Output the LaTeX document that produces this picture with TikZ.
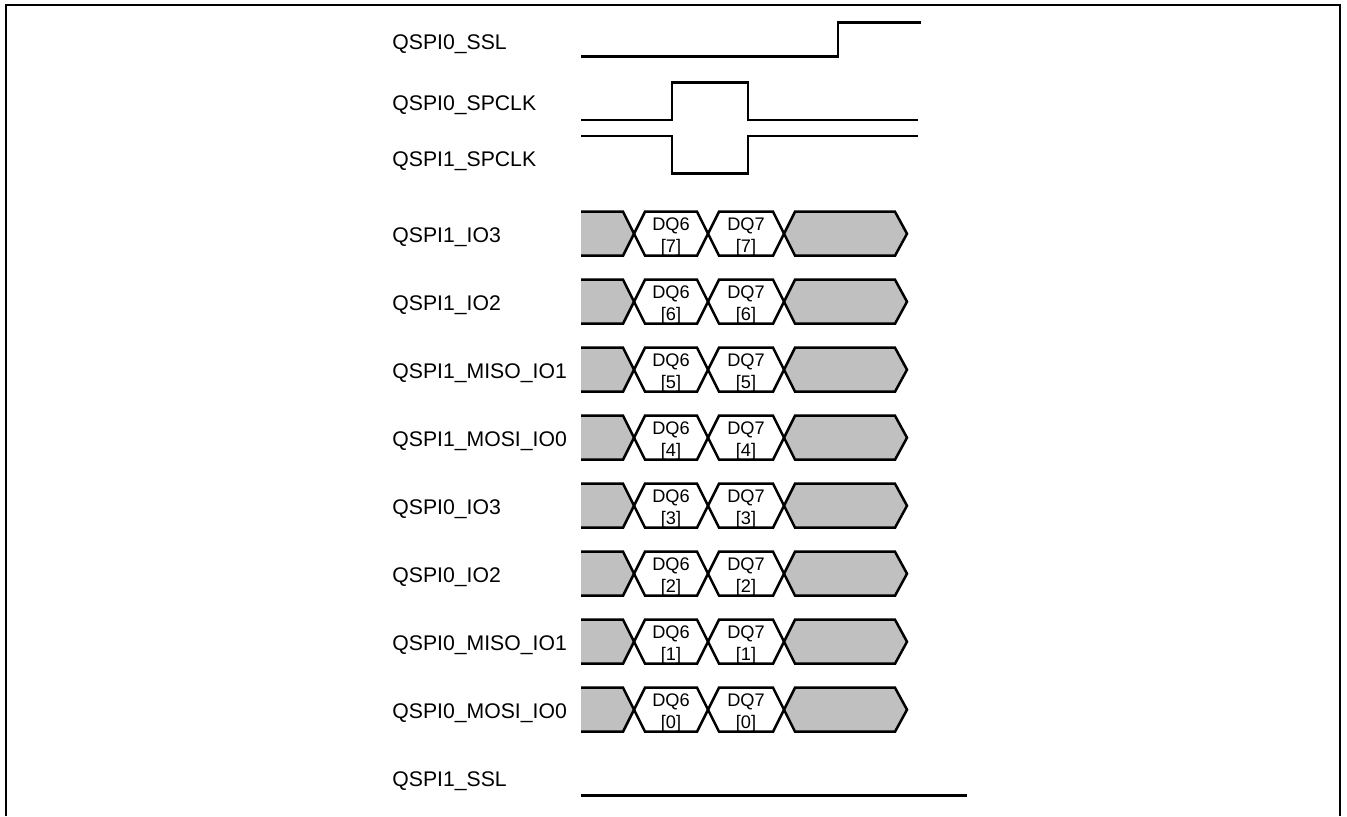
\documentclass[tikz,border=0pt]{standalone}
\usepackage{fontspec}
\setmainfont{Liberation Sans}
\definecolor{busgray}{RGB}{192,192,192}
\begin{document}
\begin{tikzpicture}[x=0.5pt,y=-0.5pt,
  sig/.style={line width=1.35pt, line join=miter},
  bus/.style={line width=1.25pt, line join=miter},
  frame/.style={line width=1pt},
  lbl/.style={anchor=base west, inner sep=0pt, font=\fontsize{10.6pt}{12pt}\selectfont},
  dq/.style={align=center, inner sep=0pt, font=\fontsize{9.1pt}{11pt}\selectfont}]
\useasboundingbox (0,0) rectangle (1347,816);
\fill[white] (0,0) rectangle (1347,816);
\draw[frame] (6,816) -- (6,5) -- (1340,5) -- (1340,816);

% labels of the clock / select lines
\node[lbl] (ssl0) at (392,49.3) {QSPI0\_SSL};
\node[lbl] (clk0) at (392,110) {QSPI0\_SPCLK};
\node[lbl] (clk1) at (392,166.7) {QSPI1\_SPCLK};
\node[lbl] (ssl1) at (392,786.7) {QSPI1\_SSL};

% waveforms
\draw[sig] (581,56.7) -- (838,56.7) -- (838,22.3) -- (921,22.3);
\draw[sig] (581,120) -- (672,120) -- (672,82.3) -- (748,82.3) -- (748,120) -- (918,120);
\draw[sig] (581,136) -- (672,136) -- (672,173.3) -- (748,173.3) -- (748,136) -- (918,136);
\draw[sig] (581,795.7) -- (967,795.7);

% data buses
\foreach \i/\lab/\n in {0/QSPI1\_IO3/7, 1/QSPI1\_IO2/6, 2/QSPI1\_MISO\_IO1/5, 3/QSPI1\_MOSI\_IO0/4,
                        4/QSPI0\_IO3/3, 5/QSPI0\_IO2/2, 6/QSPI0\_MISO\_IO1/1, 7/QSPI0\_MOSI\_IO0/0} {
  \pgfmathsetmacro\c{233.7+68*\i}
  \node[lbl] (lab\i) at (392,\c+8.5) {\lab};
  \fill[busgray] (581,\c-22) -- (623,\c-22) -- (634,\c) -- (623,\c+22) -- (581,\c+22) -- cycle;
  \draw[bus] (581,\c-22) -- (623,\c-22) -- (634,\c) -- (623,\c+22) -- (581,\c+22);
  \draw[bus] (634,\c) -- (645,\c-22) -- (697,\c-22) -- (708,\c) -- (697,\c+22) -- (645,\c+22) -- cycle;
  \draw[bus] (708,\c) -- (719,\c-22) -- (773,\c-22) -- (784,\c) -- (773,\c+22) -- (719,\c+22) -- cycle;
  \draw[bus, fill=busgray] (784,\c) -- (795,\c-22) -- (895,\c-22) -- (907,\c) -- (895,\c+22) -- (795,\c+22) -- cycle;
  \node[dq] (dqa\i) at (671,\c+3) {DQ6\\{[\n]}};
  \node[dq] (dqb\i) at (746,\c+3) {DQ7\\{[\n]}};
}
\end{tikzpicture}
\end{document}
